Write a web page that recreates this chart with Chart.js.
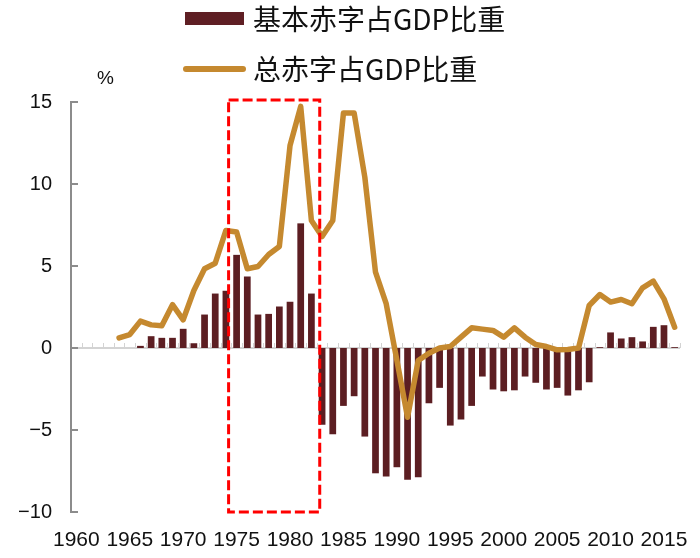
<!DOCTYPE html>
<html>
<head>
<meta charset="utf-8">
<script src="https://cdn.jsdelivr.net/npm/chart.js@4/dist/chart.umd.min.js"></script>
<style>
  body { margin: 0; background: #fff; }
  #wrap { position: relative; width: 700px; height: 558px; }
  #chart { position: absolute; left: 0; top: 0; }
  .lg { position: absolute; font-family: 'Noto Sans CJK SC', sans-serif; font-size: 28px; color: #111; line-height: 1; white-space: nowrap; }
  .sw-bar { position: absolute; left: 185px; top: 12px; width: 59px; height: 13px; background: #5F1F24; }
  .sw-line { position: absolute; left: 183px; top: 66px; width: 63px; height: 6px; border-radius: 3px; background: #C5892F; }
  #unit { position: absolute; left: 97px; top: 67px; font-family: 'Liberation Sans', Arial, sans-serif; font-size: 19px; color: #111; }
</style>
</head>
<body>
<div id="wrap">
  <canvas id="chart" width="700" height="558"></canvas>
  <div class="sw-bar"></div>
  <div class="lg" style="left:253px; top:4px;">基本赤字占GDP比重</div>
  <div class="sw-line"></div>
  <div class="lg" style="left:253px; top:54px;">总赤字占GDP比重</div>
  <div id="unit">%</div>
</div>
<script>
// --- Dados ---
const years = ['1960','1961','1962','1963','1964','1965','1966','1967','1968','1969',
  '1970','1971','1972','1973','1974','1975','1976','1977','1978','1979',
  '1980','1981','1982','1983','1984','1985','1986','1987','1988','1989',
  '1990','1991','1992','1993','1994','1995','1996','1997','1998','1999',
  '2000','2001','2002','2003','2004','2005','2006','2007','2008','2009',
  '2010','2011','2012','2013','2014','2015','2016'];

const xTickLabels = ['1960','1965','1970','1975','1980','1985','1990','1995','2000','2005','2010','2015'];
const yTicks = [-10, -5, 0, 5, 10, 15];

// 基本赤字占GDP比重
const primaryDeficit = [null, null, null, null, null, null, 0.13, 0.72, 0.62, 0.62,
  1.17, 0.29, 2.04, 3.32, 3.49, 5.68, 4.36, 2.04, 2.08, 2.53,
  2.82, 7.6, 3.32, -4.68, -5.26, -3.53, -2.94, -5.4, -7.64, -7.84,
  -7.27, -8.04, -7.88, -3.37, -2.43, -4.73, -4.36, -3.53, -1.74, -2.53,
  -2.64, -2.58, -1.74, -2.12, -2.53, -2.43, -2.9, -2.58, -2.09, 0.05,
  0.95, 0.58, 0.66, 0.4, 1.29, 1.39, 0.05];

// 总赤字占GDP比重
const totalDeficit = [null, null, null, null, 0.62, 0.82, 1.64, 1.41, 1.35, 2.64,
  1.72, 3.51, 4.83, 5.17, 7.17, 7.07, 4.83, 4.97, 5.7, 6.19,
  12.35, 14.73, 7.78, 6.8, 7.78, 14.33, 14.33, 10.42, 4.62, 2.7,
  -0.75, -4.22, -0.76, -0.32, 0.0, 0.09, 0.66, 1.23, 1.15, 1.07,
  0.66, 1.23, 0.66, 0.21, 0.09, -0.11, -0.09, 0.0, 2.59, 3.26,
  2.8, 2.96, 2.7, 3.67, 4.08, 3.0, 1.27];

// destaque (caixa tracejada)
const boxFrom = '1975', boxTo = '1982';

// --- Plugin de decoração ---
const decor = {
  id: 'decor',
  beforeDatasetsDraw(chart) {
    const { ctx, chartArea, scales: { x, y } } = chart;
    const y0 = y.getPixelForValue(0);
    const step = x.getPixelForValue(1) - x.getPixelForValue(0);
    ctx.save();
    // linha do zero
    ctx.strokeStyle = '#D3D3D3';
    ctx.lineWidth = 2;
    ctx.beginPath();
    ctx.moveTo(chartArea.left, y0);
    ctx.lineTo(chartArea.right, y0);
    ctx.stroke();
    // marcas menores
    ctx.lineWidth = 1;
    for (let i = 0; i < years.length; i++) {
      const px = Math.round(x.getPixelForValue(i) + step / 2) + 0.5;
      ctx.beginPath();
      ctx.moveTo(px, y0);
      ctx.lineTo(px, y0 - 5);
      ctx.stroke();
    }
    // marcas do eixo Y (para dentro)
    ctx.strokeStyle = '#8C8C8C';
    ctx.lineWidth = 2;
    yTicks.forEach(v => {
      const py = y.getPixelForValue(v);
      ctx.beginPath();
      ctx.moveTo(chartArea.left, py);
      ctx.lineTo(chartArea.left + 7, py);
      ctx.stroke();
    });
    ctx.restore();
  },
  afterDatasetsDraw(chart) {
    const { ctx, scales: { x, y } } = chart;
    const step = x.getPixelForValue(1) - x.getPixelForValue(0);
    const left = x.getPixelForValue(years.indexOf(boxFrom)) - step * 0.75;
    const right = x.getPixelForValue(years.indexOf(boxTo)) + step * 0.78;
    const top = y.getPixelForValue(15) - 2;
    const bottom = y.getPixelForValue(-10);
    ctx.save();
    ctx.strokeStyle = '#FF0000';
    ctx.lineWidth = 3;
    ctx.setLineDash([10, 4]);
    ctx.strokeRect(left, top, right - left, bottom - top);
    ctx.restore();
  }
};

new Chart(document.getElementById('chart'), {
  type: 'bar',
  data: {
    labels: years,
    datasets: [
      {
        type: 'line',
        label: '总赤字占GDP比重',
        data: totalDeficit,
        borderColor: '#C5892F',
        borderWidth: 5.5,
        pointRadius: 0,
        tension: 0,
        borderCapStyle: 'round',
        borderJoinStyle: 'round',
        spanGaps: false,
        order: 0
      },
      {
        label: '基本赤字占GDP比重',
        data: primaryDeficit,
        backgroundColor: '#5C1E22',
        barPercentage: 0.7,
        categoryPercentage: 0.9,
        order: 1
      }
    ]
  },
  plugins: [decor],
  options: {
    responsive: false,
    animation: false,
    layout: { padding: { top: 102, right: 20, left: 0, bottom: 0 } },
    plugins: {
      legend: { display: false },
      tooltip: { enabled: false }
    },
    scales: {
      x: {
        grid: { display: false, drawTicks: false },
        border: { display: false },
        ticks: {
          autoSkip: false,
          maxRotation: 0,
          padding: 16,
          color: '#111',
          font: { family: "'Liberation Sans', Arial, sans-serif", size: 21 },
          callback: (v, i) => xTickLabels.includes(years[i]) ? years[i] : ''
        },
        afterFit: s => { s.height = 46; }
      },
      y: {
        min: -10,
        max: 15,
        grid: { display: false, drawTicks: false },
        border: { display: true, color: '#8C8C8C', width: 2 },
        ticks: {
          stepSize: 5,
          padding: 19,
          color: '#111',
          font: { family: "'Liberation Sans', Arial, sans-serif", size: 20 },
          callback: v => String(v).replace('-', '\u2212')
        },
        afterFit: s => { s.width = 71; }
      }
    }
  }
});
</script>
</body>
</html>
